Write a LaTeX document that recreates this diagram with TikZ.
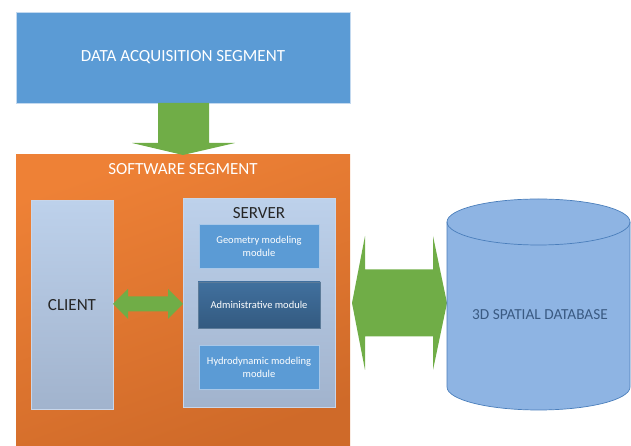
\documentclass[tikz,border=0pt]{standalone}
\usepackage{fontspec}
\setmainfont{Carlito}
\usetikzlibrary{shapes.geometric}
\definecolor{dablue}{HTML}{5B9BD5}
\definecolor{orangeA}{HTML}{EE8136}
\definecolor{orangeB}{HTML}{CF6A29}
\definecolor{paleA}{HTML}{BDD1EB}
\definecolor{paleB}{HTML}{A1B3CD}
\definecolor{paleEdge}{HTML}{C8D6EA}
\definecolor{modEdge}{HTML}{A9C8E8}
\definecolor{adminA}{HTML}{41709E}
\definecolor{adminB}{HTML}{335A80}
\definecolor{arrowgreen}{HTML}{70AD47}
\definecolor{dbfill}{HTML}{8EB4E3}
\definecolor{dbedge}{HTML}{4A7EBB}
\definecolor{dbtext}{HTML}{3A5A82}
\begin{document}
\begin{tikzpicture}[x=1pt,y=1pt,
  box/.style={rectangle, inner sep=0pt, anchor=center},
  bigfont/.style={font=\fontsize{17}{19}\selectfont},
  modbox/.style={box, fill=dablue, draw=modEdge, line width=0.8pt, minimum width=120pt, minimum height=44pt,
     text=white, font=\fontsize{10.5}{13}\selectfont, align=center},
  pale/.style={box, draw=paleEdge, line width=1pt, top color=paleA, bottom color=paleB},
  blockarrow/.style={fill=arrowgreen, draw=none}]
\useasboundingbox (0,0) rectangle (631,446);
% data acquisition
\node[box, fill=dablue, draw=modEdge!70!white, line width=0.6pt, minimum width=334pt, minimum height=91pt,
  text=white, bigfont] (da) at (183,388.5) {DATA ACQUISITION SEGMENT};
% software segment
\node[box, minimum width=334pt, minimum height=291pt, shading=axis, top color=orangeA, bottom color=orangeB, shading angle=20] (sw) at (183,145.5) {};
\node[text=white, bigfont, inner sep=0pt] (swl) at (183,277) {SOFTWARE SEGMENT};
% down arrow
\fill[blockarrow] (158,343) -- (209,343) -- (209,303) -- (235,303) -- (183,291) -- (132,303) -- (158,303) -- cycle;
% client
\node[pale, minimum width=82pt, minimum height=209pt] (client) at (72,140.5) {};
\node[bigfont, text=black!85, inner sep=0pt] (clientl) at (72,141) {CLIENT};
% server
\node[pale, minimum width=152pt, minimum height=209pt] (server) at (259,142.5) {};
\node[bigfont, text=black!85, inner sep=0pt] (serverl) at (259,233) {SERVER};
\node[modbox] (geo) at (259,200) {Geometry modeling\\module};
\node[modbox, top color=adminA, bottom color=adminB, draw=adminB!80!white, minimum width=122pt, minimum height=46pt] (admin) at (259,141) {Administrative module};
\node[modbox] (hydro) at (259,79) {Hydrodynamic modeling\\module};
% client-server double arrow
\fill[blockarrow] (113,142) -- (128,157) -- (128,149.5) -- (168,149.5) -- (168,157) -- (183,142)
  -- (168,127) -- (168,134.5) -- (128,134.5) -- (128,127) -- cycle;
% big double arrow
\fill[blockarrow] (352,143) -- (365,210) -- (365,176.5) -- (433,176.5) -- (433,210) -- (447,143)
  -- (433,76) -- (433,109.5) -- (365,109.5) -- (365,76) -- cycle;
% database cylinder
\filldraw[fill=dbfill, draw=dbedge, line width=0.7pt]
  (447,224) -- (447,59) arc[start angle=180, end angle=360, x radius=91.5, y radius=23]
  -- (630,224) arc[start angle=0, end angle=180, x radius=91.5, y radius=23] -- cycle;
\draw[dbedge, line width=0.7pt] (447,224) arc[start angle=180, end angle=360, x radius=91.5, y radius=23];
\node[text=dbtext, font=\fontsize{15.3}{17}\selectfont, inner sep=0pt] (db) at (540,131) {3D SPATIAL DATABASE};
\end{tikzpicture}
\end{document}
